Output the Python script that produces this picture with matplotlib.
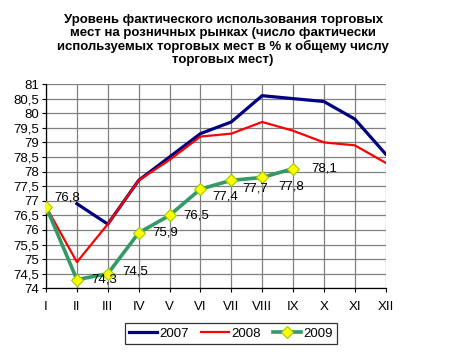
import matplotlib
matplotlib.use("Agg")
import matplotlib.pyplot as plt
import numpy as np

# Data
months = ["I", "II", "III", "IV", "V", "VI", "VII", "VIII", "IX", "X", "XI", "XII"]
y2007 = [np.nan, 76.9, 76.2, 77.7, 78.5, 79.3, 79.7, 80.6, 80.5, 80.4, 79.8, 78.6]
y2008 = [76.8, 74.9, 76.2, 77.7, 78.4, 79.2, 79.3, 79.7, 79.4, 79.0, 78.9, 78.3]
y2009 = [76.8, 74.3, 74.5, 75.9, 76.5, 77.4, 77.7, 77.8, 78.1]
yticks = [74, 74.5, 75, 75.5, 76, 76.5, 77, 77.5, 78, 78.5, 79, 79.5, 80, 80.5, 81]

TITLE = ("Уровень фактического использования торговых\n"
         "мест на розничных рынках (число фактически\n"
         "используемых торговых мест в % к общему числу\n"
         "торговых мест)")

# label offsets in pixels (dx, dy) for the 2009 data labels
label_offsets = [(8, 9), (14, 0), (15, 2), (14, 0), (14, 0), (12, -7), (11, -8), (16, -9), (18, 0)]

plt.rcParams['font.family'] = ['Liberation Sans', 'DejaVu Sans']

fig = plt.figure(figsize=(4.63, 3.56), dpi=100)
ax = fig.add_axes([0.0994, 0.19, 0.7336, 0.574])

x = np.arange(len(months))
ax.plot(x, y2007, color="#000080", lw=2.3, zorder=3, label="2007")
ax.plot(x, y2008, color="#FF0000", lw=1.6, zorder=4, label="2008")
ax.plot(x[:len(y2009)], y2009, color="#339966", lw=2.6, zorder=5,
        marker="D", ms=6.5, mfc="#FFFF00", mec="#99CC00", mew=0.8, label="2009")

for xi, yi, (dx, dy) in zip(x, y2009, label_offsets):
    ax.annotate(f"{yi:.1f}".replace(".", ","), (xi, yi), xytext=(dx * 0.72, dy * 0.72),
                textcoords="offset points", ha="left", va="center", fontsize=9.5, zorder=6)

ax.set_xlim(0, 11)
ax.set_ylim(74, 81)
ax.set_xticks(x)
ax.set_xticklabels(months, fontsize=9.5)
ax.set_yticks(yticks)
ax.set_yticklabels([f"{t:g}".replace(".", ",") for t in yticks], fontsize=9.5)
ax.tick_params(axis="both", length=3, width=0.8, color="black", pad=2)
ax.tick_params(axis="x", pad=6)

ax.grid(True, color="#808080", lw=0.9)
ax.set_axisbelow(True)
for side in ["top", "right"]:
    ax.spines[side].set_visible(False)
for side in ["left", "bottom"]:
    ax.spines[side].set_color("black")
    ax.spines[side].set_linewidth(0.9)
    ax.spines[side].set_zorder(2.5)

fig.text(0.482, 0.962, TITLE, ha="center", va="top", fontsize=9.5, fontweight="bold",
         linespacing=1.13)

leg = fig.legend(loc="center", bbox_to_anchor=(0.499, 0.063), ncol=3, fontsize=9.5,
                 frameon=True, fancybox=False, handlelength=2.1, handletextpad=0.2,
                 columnspacing=0.9, borderpad=0.3)
leg.get_frame().set_edgecolor("black")
leg.get_frame().set_linewidth(0.9)

fig.savefig("out.png", dpi=100)
